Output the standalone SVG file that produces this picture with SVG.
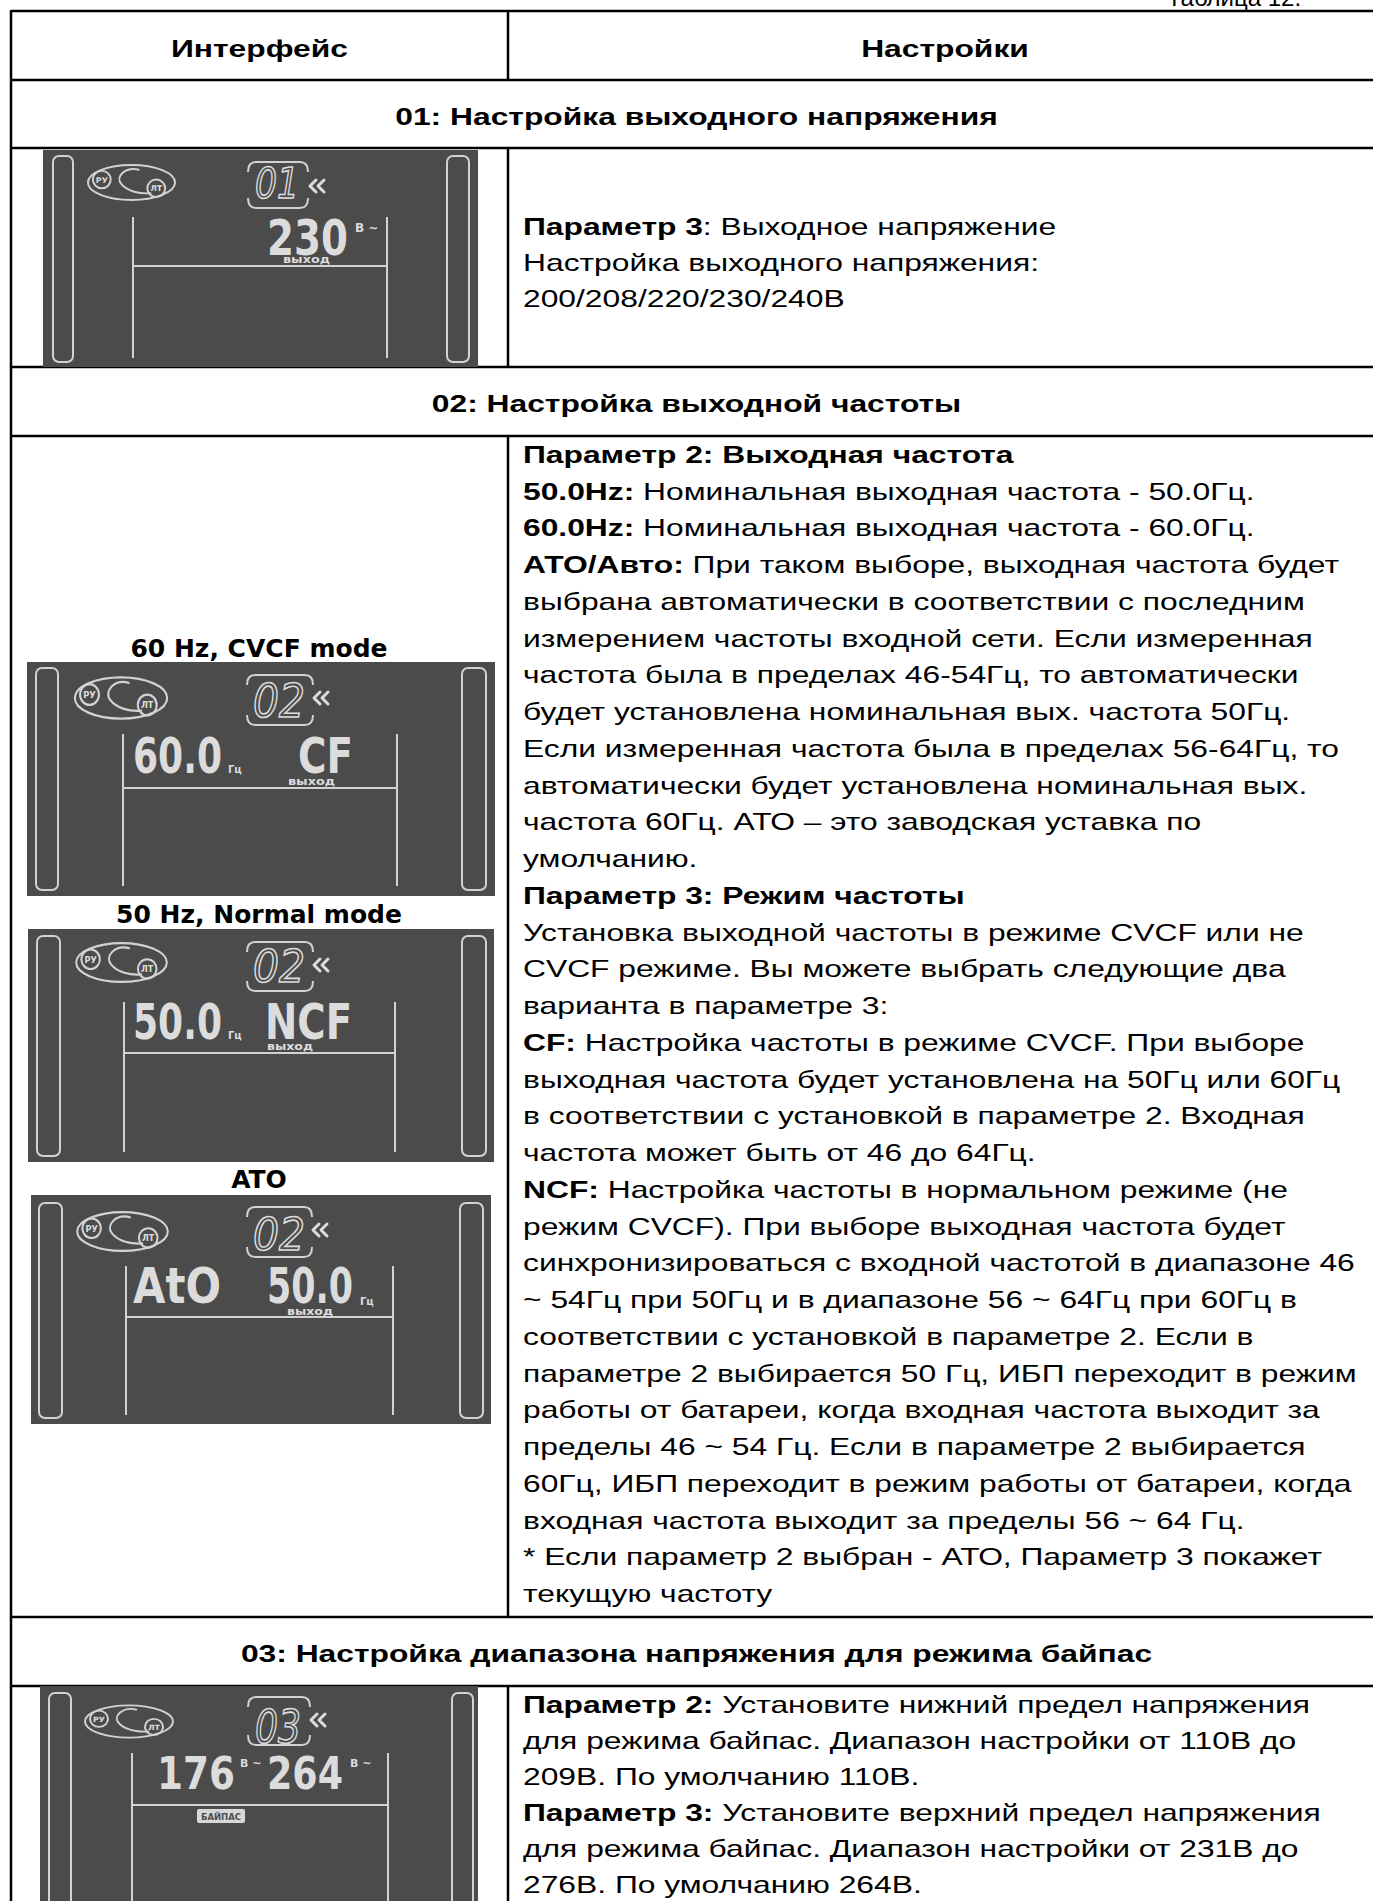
<svg xmlns="http://www.w3.org/2000/svg" xmlns:xlink="http://www.w3.org/1999/xlink" width="1373" height="1901" viewBox="0 0 1373 1901">
<style>
.t{font-family:"Liberation Sans",Arial,sans-serif;font-size:24px;fill:#000}
.b{font-weight:bold}
.c{text-anchor:middle}
.grid{stroke:#000;stroke-width:2.5;fill:none}
.lcd{fill:#4b4b4b}
.ln{stroke:#d2d2d2;stroke-width:2;fill:none}
.seg{font-family:"DejaVu Sans",sans-serif;font-weight:bold;fill:#dcdcdc}
.out{font-family:"DejaVu Sans",sans-serif;font-style:italic;fill:none;stroke:#dcdcdc;stroke-width:1.6}
.sm{font-family:"DejaVu Sans",sans-serif;font-weight:bold;fill:#dcdcdc}
.chev{stroke:#dcdcdc;stroke-width:3;fill:none;stroke-linecap:round;stroke-linejoin:round}
.lbl{font-family:"DejaVu Sans",sans-serif;font-weight:bold;font-size:25px;fill:#000;text-anchor:middle}
</style>
<defs>
<g id="logo">
<ellipse cx="0" cy="0" rx="44" ry="18" class="ln" stroke-width="2.5"/>
<circle cx="-30" cy="-3" r="9" class="ln" stroke-width="1.8"/>
<circle cx="25" cy="6" r="9" class="ln" stroke-width="1.8"/>
<path d="M 8,-13 C -6,-17 -17,-6 -10,2 C -4,9 8,12 20,11" class="ln" stroke-width="2.5"/>
<text x="-30" y="0" class="sm c" font-size="8">РУ</text>
<text x="25" y="9" class="sm c" font-size="8">ЛТ</text>
</g>
<path id="chev" d="M7,-6 L1,0 L7,6 M15,-6 L9,0 L15,6" class="chev"/>
</defs>

<text x="1167" y="6" class="t">Таблица 12.</text>

<g id="grid">
<line x1="11" y1="11" x2="1382" y2="11" class="grid"/>
<line x1="11" y1="80" x2="1382" y2="80" class="grid"/>
<line x1="11" y1="148" x2="1382" y2="148" class="grid"/>
<line x1="11" y1="367" x2="1382" y2="367" class="grid"/>
<line x1="11" y1="436" x2="1382" y2="436" class="grid"/>
<line x1="11" y1="1617" x2="1382" y2="1617" class="grid"/>
<line x1="11" y1="1686" x2="1382" y2="1686" class="grid"/>
<line x1="11" y1="10" x2="11" y2="1901" class="grid"/>
<line x1="508" y1="11" x2="508" y2="80" class="grid"/>
<line x1="508" y1="148" x2="508" y2="367" class="grid"/>
<line x1="508" y1="436" x2="508" y2="1617" class="grid"/>
<line x1="508" y1="1686" x2="508" y2="1901" class="grid"/>
</g>

<g id="headers">
<g transform="translate(259.5 0) scale(1.325 1)"><text x="0" y="57" class="t b c">Интерфейс</text></g>
<g transform="translate(945 0) scale(1.325 1)"><text x="0" y="57" class="t b c">Настройки</text></g>
<g transform="translate(696.5 0) scale(1.325 1)">
<text x="0" y="125" class="t b c">01: Настройка выходного напряжения</text>
<text x="0" y="412" class="t b c">02: Настройка выходной частоты</text>
<text x="0" y="1662" class="t b c">03: Настройка диапазона напряжения для режима байпас</text>
</g>
</g>

<g id="lcd01">
<rect x="43" y="150" width="435" height="217" class="lcd"/>
<rect x="53" y="156" width="20" height="206" rx="6" class="ln"/>
<rect x="447" y="156" width="22" height="206" rx="6" class="ln"/>
<use xlink:href="#logo" transform="translate(131.5 182.5) scale(0.99 0.97)"/>
<path d="M248,172 Q248,162 256,162 L300,162 Q308,162 308,172 M248,198 Q248,208 256,208 L300,208 Q308,208 308,198" class="ln"/>
<text x="255" y="198" class="out" font-size="42" textLength="44" lengthAdjust="spacingAndGlyphs">01</text>
<use xlink:href="#chev" transform="translate(309 186)"/>
<path d="M133,217 V358 M387,217 V358 M133,266 H387" class="ln"/>
<text x="267" y="255" class="seg" font-size="50" textLength="81" lengthAdjust="spacingAndGlyphs">230</text>
<text x="355" y="232" class="sm" font-size="12">В ~</text>
<text x="283" y="263" class="sm" font-size="10" textLength="47" lengthAdjust="spacingAndGlyphs">выход</text>
</g>

<g id="lcd02a">
<text x="259" y="657" class="lbl">60 Hz, CVCF mode</text>
<rect x="27" y="662" width="468" height="234" class="lcd"/>
<rect x="36" y="668" width="22" height="222" rx="6" class="ln"/>
<rect x="462" y="668" width="24" height="222" rx="6" class="ln"/>
<use xlink:href="#logo" transform="translate(121 698) scale(1.05 1.15)"/>
<path d="M247,685 Q247,675 255,675 L305,675 Q313,675 313,685 M247,715 Q247,725 255,725 L305,725 Q313,725 313,715" class="ln"/>
<text x="253" y="717" class="out" font-size="47" textLength="52" lengthAdjust="spacingAndGlyphs">02</text>
<use xlink:href="#chev" transform="translate(313 698)"/>
<path d="M123,734 V886 M397,734 V886 M123,788 H397" class="ln"/>
<text x="133" y="773" class="seg" font-size="50" textLength="89" lengthAdjust="spacingAndGlyphs">60.0</text>
<text x="228" y="773" class="sm" font-size="10">Гц</text>
<text x="298" y="773" class="seg" font-size="50" textLength="55" lengthAdjust="spacingAndGlyphs">CF</text>
<text x="288" y="785" class="sm" font-size="10" textLength="47" lengthAdjust="spacingAndGlyphs">выход</text>
</g>

<g id="lcd02b">
<text x="259" y="923" class="lbl">50 Hz, Normal mode</text>
<rect x="28" y="929" width="466" height="233" class="lcd"/>
<rect x="37" y="936" width="23" height="220" rx="6" class="ln"/>
<rect x="462" y="936" width="24" height="220" rx="6" class="ln"/>
<use xlink:href="#logo" transform="translate(121.5 962.5) scale(1.03 1.08)"/>
<path d="M247,952 Q247,942 255,942 L305,942 Q313,942 313,952 M247,981 Q247,991 255,991 L305,991 Q313,991 313,981" class="ln"/>
<text x="253" y="982" class="out" font-size="45" textLength="52" lengthAdjust="spacingAndGlyphs">02</text>
<use xlink:href="#chev" transform="translate(313 965)"/>
<path d="M124,1002 V1152 M395,1002 V1152 M124,1053 H395" class="ln"/>
<text x="133" y="1039" class="seg" font-size="50" textLength="89" lengthAdjust="spacingAndGlyphs">50.0</text>
<text x="228" y="1039" class="sm" font-size="10">Гц</text>
<text x="265" y="1039" class="seg" font-size="50" textLength="87" lengthAdjust="spacingAndGlyphs">NCF</text>
<text x="267" y="1050" class="sm" font-size="10" textLength="46" lengthAdjust="spacingAndGlyphs">выход</text>
</g>

<g id="lcd02c">
<text x="259" y="1188" class="lbl">ATO</text>
<rect x="31" y="1195" width="460" height="229" class="lcd"/>
<rect x="39" y="1203" width="23" height="215" rx="6" class="ln"/>
<rect x="460" y="1203" width="23" height="215" rx="6" class="ln"/>
<use xlink:href="#logo" transform="translate(122.5 1231.5) scale(1.03 1.08)"/>
<path d="M247,1217 Q247,1207 255,1207 L304,1207 Q312,1207 312,1217 M247,1247 Q247,1257 255,1257 L304,1257 Q312,1257 312,1247" class="ln"/>
<text x="253" y="1250" class="out" font-size="45" textLength="52" lengthAdjust="spacingAndGlyphs">02</text>
<use xlink:href="#chev" transform="translate(312 1230)"/>
<path d="M126,1266 V1415 M393,1266 V1415 M126,1317 H393" class="ln"/>
<text x="133" y="1303" class="seg" font-size="50" textLength="88" lengthAdjust="spacingAndGlyphs">AtO</text>
<text x="267" y="1303" class="seg" font-size="50" textLength="86" lengthAdjust="spacingAndGlyphs">50.0</text>
<text x="360" y="1305" class="sm" font-size="10">Гц</text>
<text x="287" y="1315" class="sm" font-size="10" textLength="46" lengthAdjust="spacingAndGlyphs">выход</text>
</g>

<g id="lcd03">
<rect x="40" y="1686" width="438" height="220" class="lcd"/>
<rect x="49" y="1693" width="22" height="220" rx="6" class="ln"/>
<rect x="452" y="1693" width="21" height="220" rx="6" class="ln"/>
<use xlink:href="#logo" transform="translate(129 1721.5) scale(1 0.9)"/>
<path d="M248,1707 Q248,1697 256,1697 L302,1697 Q310,1697 310,1707 M248,1735 Q248,1745 256,1745 L302,1745 Q310,1745 310,1735" class="ln"/>
<text x="255" y="1743" class="out" font-size="47" textLength="46" lengthAdjust="spacingAndGlyphs">03</text>
<use xlink:href="#chev" transform="translate(310 1720)"/>
<path d="M132,1753 V1901 M388,1753 V1901 M132,1805 H388" class="ln"/>
<text x="157" y="1789" class="seg" font-size="44" textLength="78" lengthAdjust="spacingAndGlyphs">176</text>
<text x="240" y="1767" class="sm" font-size="11">В ~</text>
<text x="267" y="1789" class="seg" font-size="44" textLength="76" lengthAdjust="spacingAndGlyphs">264</text>
<text x="350" y="1767" class="sm" font-size="11">В ~</text>
<rect x="197" y="1809" width="48" height="14" rx="2" fill="#d8d8d8"/>
<text x="221" y="1820" class="sm c" font-size="8.5" style="fill:#4b4b4b">БАЙПАС</text>
</g>

<g id="text01" transform="translate(523 0) scale(1.325 1)">
<text x="0" y="235" class="t"><tspan class="b">Параметр 3</tspan>: Выходное напряжение</text>
<text x="0" y="271" class="t">Настройка выходного напряжения:</text>
<text x="0" y="307" class="t">200/208/220/230/240В</text>
</g>

<g id="text02" transform="translate(523 0) scale(1.325 1)">
<text x="0" y="463" class="t b">Параметр 2: Выходная частота</text>
<text x="0" y="499.75" class="t"><tspan class="b">50.0Hz:</tspan> Номинальная выходная частота - 50.0Гц.</text>
<text x="0" y="536.5" class="t"><tspan class="b">60.0Hz:</tspan> Номинальная выходная частота - 60.0Гц.</text>
<text x="0" y="573.25" class="t"><tspan class="b">АТО/Авто:</tspan> При таком выборе, выходная частота будет</text>
<text x="0" y="610" class="t">выбрана автоматически в соответствии с последним</text>
<text x="0" y="646.75" class="t">измерением частоты входной сети. Если измеренная</text>
<text x="0" y="683.5" class="t">частота была в пределах 46-54Гц, то автоматически</text>
<text x="0" y="720.25" class="t">будет установлена номинальная вых. частота 50Гц.</text>
<text x="0" y="757" class="t">Если измеренная частота была в пределах 56-64Гц, то</text>
<text x="0" y="793.75" class="t">автоматически будет установлена номинальная вых.</text>
<text x="0" y="830.5" class="t">частота 60Гц. АТО – это заводская уставка по</text>
<text x="0" y="867.25" class="t">умолчанию.</text>
<text x="0" y="904" class="t b">Параметр 3: Режим частоты</text>
<text x="0" y="940.75" class="t">Установка выходной частоты в режиме CVCF или не</text>
<text x="0" y="977.5" class="t">CVCF режиме. Вы можете выбрать следующие два</text>
<text x="0" y="1014.25" class="t">варианта в параметре 3:</text>
<text x="0" y="1051" class="t"><tspan class="b">CF:</tspan> Настройка частоты в режиме CVCF. При выборе</text>
<text x="0" y="1087.75" class="t">выходная частота будет установлена на 50Гц или 60Гц</text>
<text x="0" y="1124.5" class="t">в соответствии с установкой в параметре 2. Входная</text>
<text x="0" y="1161.25" class="t">частота может быть от 46 до 64Гц.</text>
<text x="0" y="1198" class="t"><tspan class="b">NCF:</tspan> Настройка частоты в нормальном режиме (не</text>
<text x="0" y="1234.75" class="t">режим CVCF). При выборе выходная частота будет</text>
<text x="0" y="1271.5" class="t">синхронизироваться с входной частотой в диапазоне 46</text>
<text x="0" y="1308.25" class="t">~ 54Гц при 50Гц и в диапазоне 56 ~ 64Гц при 60Гц в</text>
<text x="0" y="1345" class="t">соответствии с установкой в параметре 2. Если в</text>
<text x="0" y="1381.75" class="t">параметре 2 выбирается 50 Гц, ИБП переходит в режим</text>
<text x="0" y="1418.5" class="t">работы от батареи, когда входная частота выходит за</text>
<text x="0" y="1455.25" class="t">пределы 46 ~ 54 Гц. Если в параметре 2 выбирается</text>
<text x="0" y="1492" class="t">60Гц, ИБП переходит в режим работы от батареи, когда</text>
<text x="0" y="1528.75" class="t">входная частота выходит за пределы 56 ~ 64 Гц.</text>
<text x="0" y="1565.5" class="t">* Если параметр 2 выбран - АТО, Параметр 3 покажет</text>
<text x="0" y="1602.25" class="t">текущую частоту</text>
</g>

<g id="text03" transform="translate(523 0) scale(1.325 1)">
<text x="0" y="1713" class="t"><tspan class="b">Параметр 2:</tspan> Установите нижний предел напряжения</text>
<text x="0" y="1749" class="t">для режима байпас. Диапазон настройки от 110В до</text>
<text x="0" y="1785" class="t">209В. По умолчанию 110В.</text>
<text x="0" y="1821" class="t"><tspan class="b">Параметр 3:</tspan> Установите верхний предел напряжения</text>
<text x="0" y="1857" class="t">для режима байпас. Диапазон настройки от 231В до</text>
<text x="0" y="1893" class="t">276В. По умолчанию 264В.</text>
</g>
</svg>
